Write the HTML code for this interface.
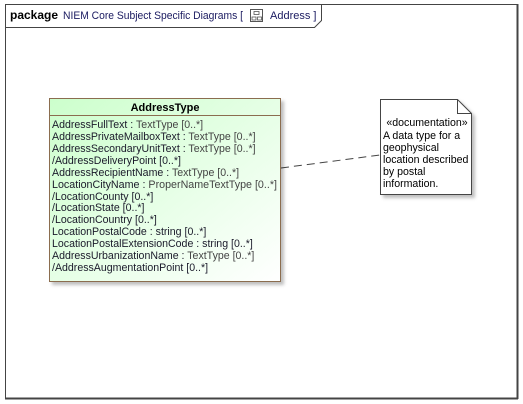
<!DOCTYPE html>
<html><head><meta charset="utf-8"><style>
html,body{margin:0;padding:0;background:#fff;}
svg{display:block;font-family:"Liberation Sans",Arial,sans-serif;}
</style></head><body>
<svg width="523" height="404" viewBox="0 0 523 404" xmlns="http://www.w3.org/2000/svg">
<defs>
<linearGradient id="g" x1="0" y1="0" x2="1" y2="1">
<stop offset="0" stop-color="#ccffcc"/><stop offset="1" stop-color="#ffffff"/>
</linearGradient>
<filter id="sh" x="-5%" y="-5%" width="115%" height="115%"><feDropShadow dx="3" dy="3" stdDeviation="1.5" flood-color="#000" flood-opacity="0.25"/></filter>
</defs>
<rect x="5.5" y="4.5" width="512.5" height="394" fill="#fff" stroke="#444" stroke-width="1"/>
<line x1="517.5" y1="4" x2="517.5" y2="399" stroke="#444" stroke-width="2"/>
<line x1="5" y1="398.5" x2="518" y2="398.5" stroke="#444" stroke-width="2"/>
<path d="M5.5 27.5 H314.5 L321.5 20.5 V4.5" fill="none" stroke="#444"/>
<text x="10" y="19" font-size="12" font-weight="bold" fill="#000">package</text>
<text x="63" y="19" font-size="11" fill="#1a1a60" textLength="180" lengthAdjust="spacingAndGlyphs">NIEM Core Subject Specific Diagrams [</text>
<rect x="250.5" y="9.5" width="12" height="12" fill="#fff" stroke="#555"/>
<rect x="254" y="11.5" width="5" height="3" fill="none" stroke="#555" stroke-width="0.8"/>
<rect x="252" y="17" width="4" height="3" fill="none" stroke="#555" stroke-width="0.8"/>
<rect x="257.5" y="17" width="4" height="3" fill="none" stroke="#555" stroke-width="0.8"/>
<text x="270" y="19" font-size="11" fill="#1a1a60">Address ]</text>

<line x1="281" y1="168" x2="380" y2="155" stroke="#444" stroke-dasharray="8,5"/>

<g filter="url(#sh)">
<rect x="49.5" y="98.5" width="231" height="183" fill="url(#g)" stroke="#8b6d4f"/>
</g>
<line x1="49.5" y1="115.5" x2="280.5" y2="115.5" stroke="#8b6d4f"/>
<text x="165" y="111" font-size="11" font-weight="bold" text-anchor="middle" fill="#000">AddressType</text>
<g font-size="10.6" fill="#1a1a2a">
<text x="52" y="128">AddressFullText : <tspan fill="#444">TextType [0..*]</tspan></text>
<text x="52" y="140">AddressPrivateMailboxText : <tspan fill="#444">TextType [0..*]</tspan></text>
<text x="52" y="152">AddressSecondaryUnitText : <tspan fill="#444">TextType [0..*]</tspan></text>
<text x="52" y="164">/AddressDeliveryPoint [0..*]</text>
<text x="52" y="176">AddressRecipientName : <tspan fill="#444">TextType [0..*]</tspan></text>
<text x="52" y="188" textLength="225" lengthAdjust="spacingAndGlyphs">LocationCityName : <tspan fill="#444">ProperNameTextType [0..*]</tspan></text>
<text x="52" y="200">/LocationCounty [0..*]</text>
<text x="52" y="211">/LocationState [0..*]</text>
<text x="52" y="223">/LocationCountry [0..*]</text>
<text x="52" y="235">LocationPostalCode : string [0..*]</text>
<text x="52" y="247">LocationPostalExtensionCode : string [0..*]</text>
<text x="52" y="259">AddressUrbanizationName : <tspan fill="#444">TextType [0..*]</tspan></text>
<text x="52" y="271">/AddressAugmentationPoint [0..*]</text>
</g>

<g filter="url(#sh)">
<path d="M380.5 99.5 H457.5 L471.5 113.5 V194.5 H380.5 Z" fill="#fff" stroke="#444"/>
</g>
<path d="M457.5 99.5 V113.5 H471.5" fill="none" stroke="#444"/>
<g font-size="10.6" fill="#000">
<text x="427" y="126" text-anchor="middle">«documentation»</text>
<text x="383" y="139">A data type for a</text>
<text x="383" y="151">geophysical</text>
<text x="383" y="163">location described</text>
<text x="383" y="175">by postal</text>
<text x="383" y="187">information.</text>
</g>
</svg>
</body></html>
